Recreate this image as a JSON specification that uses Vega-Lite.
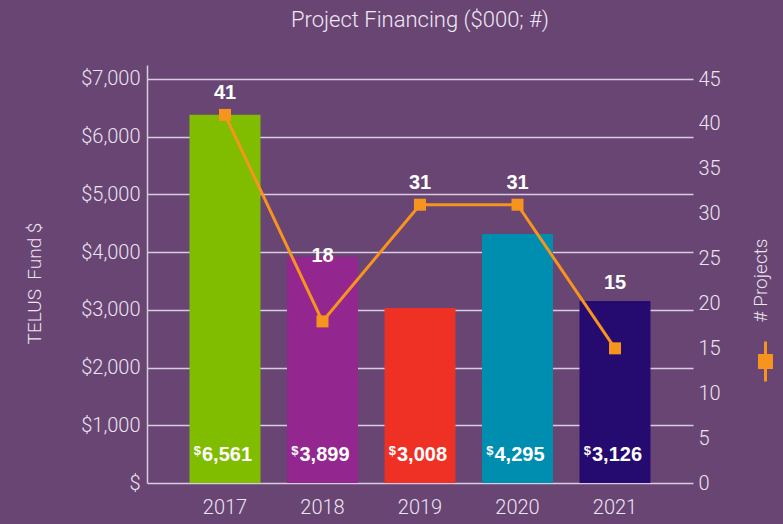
{
  "$schema": "https://vega.github.io/schema/vega-lite/v6.json",
  "width": 546,
  "height": 418,
  "autosize": {"type": "none"},
  "padding": {"left": 147, "top": 65, "right": 90, "bottom": 41},
  "background": "#684573",
  "config": {
    "view": {"stroke": null},
    "font": "Roboto",
    "axis": {"labelFont": "Roboto", "titleFont": "Roboto", "labelFontWeight": 300, "titleFontWeight": 300, "labelColor": "#ece4f0", "titleColor": "#ece4f0"}
  },
  "title": {
    "text": "Project Financing ($000; #)",
    "font": "Roboto",
    "fontSize": 22,
    "fontWeight": 300,
    "color": "#f0e8f4",
    "anchor": "middle",
    "offset": 33
  },
  "data": {
    "values": [
      {"year": "2017", "funds": 6380, "label": "6,561", "projects": 41},
      {"year": "2018", "funds": 3920, "label": "3,899", "projects": 18},
      {"year": "2019", "funds": 3030, "label": "3,008", "projects": 31},
      {"year": "2020", "funds": 4315, "label": "4,295", "projects": 31},
      {"year": "2021", "funds": 3155, "label": "3,126", "projects": 15}
    ]
  },
  "encoding": {
    "x": {
      "field": "year",
      "type": "ordinal",
      "scale": {"paddingInner": 0.272, "paddingOuter": 0.436},
      "axis": {"title": null, "domain": false, "ticks": false, "labelAngle": 0, "labelFontSize": 20, "labelPadding": 14}
    }
  },
  "layer": [
    {
      "encoding": {
        "y": {
          "field": "funds",
          "type": "quantitative",
          "scale": {"domain": [0, 7242], "nice": false},
          "axis": {
            "values": [0, 1000, 2000, 3000, 4000, 5000, 6000, 7000],
            "labelExpr": "datum.value == 0 ? '$' : '$' + format(datum.value, ',')",
            "title": "TELUS\u00a0 Fund $",
            "titleFontSize": 19,
            "titlePadding": 36,
            "titleY": 218,
            "labelFontSize": 20,
            "labelPadding": 7,
            "ticks": false,
            "grid": true,
            "gridColor": "#d8cce0",
            "gridWidth": 1.5,
            "domainColor": "#d8cce0",
            "domainWidth": 1.5
          }
        }
      },
      "layer": [
        {
          "mark": {"type": "bar"},
          "encoding": {
            "fill": {
              "field": "year",
              "type": "nominal",
              "scale": {"range": ["#80bc00", "#93278f", "#ee3124", "#008eb0", "#250b70"]},
              "legend": null
            }
          }
        },
        {
          "mark": {"type": "text", "font": "Liberation Sans", "fontWeight": "bold", "fontSize": 20, "color": "white", "baseline": "middle", "align": "center", "dx": 2, "dy": -28},
          "encoding": {"y": {"datum": 0}, "text": {"field": "label"}}
        },
        {
          "mark": {"type": "text", "font": "Liberation Sans", "fontWeight": "bold", "fontSize": 13, "color": "white", "baseline": "middle", "align": "right", "dx": -24, "dy": -32},
          "encoding": {"y": {"datum": 0}, "text": {"value": "$"}}
        }
      ]
    },
    {
      "encoding": {
        "y": {
          "field": "projects",
          "type": "quantitative",
          "scale": {"domain": [0, 46.56], "nice": false},
          "axis": {
            "orient": "right",
            "values": [0, 5, 10, 15, 20, 25, 30, 35, 40, 45],
            "title": "# Projects",
            "titleAngle": 270,
            "titleFontSize": 19,
            "titlePadding": 50,
            "titleY": 215,
            "labelFontSize": 20,
            "labelPadding": 5,
            "ticks": false,
            "domain": false,
            "grid": false
          }
        }
      },
      "layer": [
        {
          "mark": {"type": "line", "color": "#f7941d", "strokeWidth": 3},
          "encoding": {
            "stroke": {
              "datum": "# Projects",
              "scale": {"range": ["#f7941d"]},
              "legend": {
                "orient": "none",
                "legendX": 597,
                "legendY": 275,
                "title": null,
                "padding": 0,
                "labelExpr": "''",
                "symbolType": "M0,-1L0,1M-0.3,-0.3L0.3,-0.3L0.3,0.3L-0.3,0.3Z",
                "symbolSize": 1600,
                "symbolStrokeWidth": 3,
                "symbolFillColor": "#f7941d",
                "symbolStrokeColor": "#f7941d"
              }
            }
          }
        },
        {
          "mark": {"type": "point", "shape": "square", "filled": true, "size": 144, "color": "#f7941d", "opacity": 1}
        },
        {
          "transform": [{"filter": "datum.year != '2018' && datum.year != '2021'"}],
          "mark": {"type": "text", "font": "Liberation Sans", "fontWeight": "bold", "fontSize": 20, "color": "white", "baseline": "middle", "dy": -22},
          "encoding": {"text": {"field": "projects"}}
        },
        {
          "transform": [{"filter": "datum.year == '2018' || datum.year == '2021'"}],
          "mark": {"type": "text", "font": "Liberation Sans", "fontWeight": "bold", "fontSize": 20, "color": "white", "baseline": "middle", "dy": -65},
          "encoding": {"text": {"field": "projects"}}
        }
      ]
    }
  ],
  "resolve": {"scale": {"y": "independent"}}
}
